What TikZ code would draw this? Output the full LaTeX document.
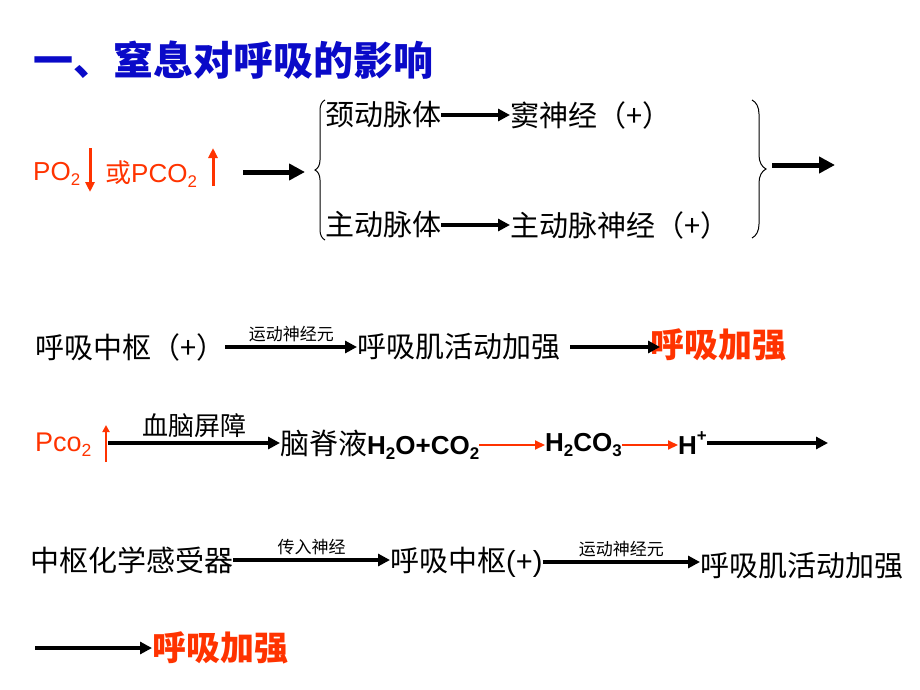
\documentclass[tikz,border=0pt]{standalone}
\usepackage{fontspec}
\setmainfont{Liberation Sans}
\newfontfamily\cjk{Noto Sans CJK SC}
\usetikzlibrary{positioning,decorations.pathreplacing,arrows.meta}
\definecolor{titleblue}{RGB}{10,10,200}
\definecolor{hotred}{RGB}{255,51,0}
\newcommand{\lo}[1]{\raisebox{-0.35ex}{\scalebox{0.65}{#1}}}
\newcommand{\hi}[1]{\raisebox{0.9ex}{\scalebox{0.65}{#1}}}
\tikzset{
  txt/.style = {inner sep=0pt, anchor=west, font=\cjk\fontsize{29}{31}\selectfont},
  hot/.style = {txt, text=hotred, font=\cjk\bfseries\fontsize{34}{36}\selectfont},
  tag/.style = {inner sep=0pt, font=\cjk\fontsize{17}{19}\selectfont},
  fat/.style = {-{Triangle[length=16pt,width=16pt]}, line width=5pt},
  thin/.style = {-{Triangle[length=12pt,width=12pt]}, line width=3.5pt},
  redarr/.style = {-{Triangle[length=10pt,width=9pt]}, line width=2pt, hotred},
}
\begin{document}
\begin{tikzpicture}[x=1pt,y=-1pt]
\useasboundingbox (0,0) rectangle (920,690);

\node[txt, text=titleblue, font=\cjk\bfseries\fontsize{40}{42}\selectfont] (title) at (33,60) {一、窒息对呼吸的影响};

% first block
\node[txt, text=hotred, font=\fontsize{26}{28}\selectfont] (po) at (33,174) {PO\lo{2}};
\draw[redarr, line width=3pt] (90,148) -- (90,192);
\node[txt, text=hotred, font=\fontsize{26}{28}\selectfont] (pco) at (105,174) {\cjk 或\rmfamily PCO\lo{2}};
\draw[redarr, line width=3pt] (213,186) -- (213,148);
\coordinate (f1) at (243,172);
\coordinate (f2) at (305,172);
\draw[fat] (f1) -- (f2);
\draw[decorate, decoration={brace, amplitude=10pt}, line width=1pt] (325,240) -- (325,100);
\draw[decorate, decoration={brace, amplitude=14pt}, line width=1pt] (752,100) -- (752,238);
\coordinate (g1) at (772,165);
\coordinate (g2) at (835,165);
\draw[fat] (g1) -- (g2);
\node[txt] (jd) at (325,115) {颈动脉体};
\node[txt] (dsj) at (510,115) {窦神经（+）};
\draw[thin] (jd.east) -- (jd.east -| dsj.west);
\node[txt] (zd) at (325,225) {主动脉体};
\node[txt] (zsj) at (510,225) {主动脉神经（+）};
\draw[thin] (zd.east) -- (zd.east -| zsj.west);

% second line
\node[txt] (zs1) at (35,347) {呼吸中枢（+）};
\node[txt] (hx1) at (357,347) {呼吸肌活动加强};
\draw[thin] (zs1.east) -- node[tag, above=3pt] {运动神经元} (hx1.west);
\node[hot] (jq1) at (650,345) {呼吸加强};
\draw[thin] ([xshift=10pt]hx1.east) -- ([xshift=10pt]hx1.east -| jq1.west);

% third line
\node[txt, text=hotred, font=\fontsize{27}{29}\selectfont] (pc) at (35,445) {Pco\lo{2}};
\draw[line width=2pt, hotred, -{Triangle[length=7pt,width=7pt]}] (106,462) -- (106,425);
\node[txt] (njy) at (280,445) {脑脊液\bfseries\rmfamily\fontsize{26}{28}\selectfont H\lo{2}O+CO\lo{2}};
\draw[thin] (108,443) -- node[tag, font=\cjk\fontsize{26}{28}\selectfont, above=4pt] {血脑屏障} (108,443 -| njy.west);
\node[txt, font=\bfseries\fontsize{26}{28}\selectfont] (hco) at (545,445) {H\lo{2}CO\lo{3}};
\draw[redarr] (njy.east) -- (njy.east -| hco.west);
\node[txt, font=\bfseries\fontsize{26}{28}\selectfont] (hp) at (678,443) {H\hi{+}};
\draw[redarr] (hco.east) -- (hco.east -| hp.west);
\coordinate (h2) at (828,443);
\draw[thin] (hp.east) -- (h2);

% fourth line
\node[txt] (gsq) at (30,560) {中枢化学感受器};
\node[txt] (zs2) at (390,562) {呼吸中枢\rmfamily(+)};
\draw[thin] (gsq.east) -- node[tag, above=3pt] {传入神经} (gsq.east -| zs2.west);
\node[txt] (hx2) at (700,566) {呼吸肌活动加强};
\draw[thin] (zs2.east) -- node[tag, above=3pt] {运动神经元} (zs2.east -| hx2.west);
\coordinate (k1) at (35,648);
\node[hot] (jq2) at (152,648) {呼吸加强};
\draw[thin] (k1) -- (jq2.west);
\end{tikzpicture}
\end{document}
